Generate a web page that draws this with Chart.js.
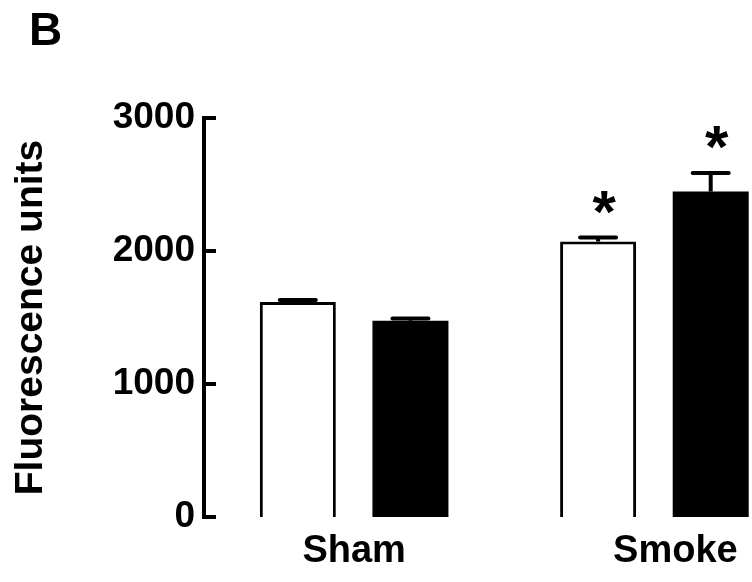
<!DOCTYPE html>
<html>
<head>
<meta charset="utf-8">
<title>Fluorescence units</title>
<script src="https://cdn.jsdelivr.net/npm/chart.js@4.4.1/dist/chart.umd.min.js"></script>
<style>
  html, body { margin: 0; padding: 0; background: #fff; }
  #wrap { position: relative; width: 752px; height: 582px; }
</style>
</head>
<body>
<div id="wrap"><canvas id="chart"></canvas></div>
<script>
const GROUPS = ['Sham', 'Smoke'];
const OPEN_VALUES = [1617, 2071];
const OPEN_ERRORS = [15, 30];
const FILLED_VALUES = [1476, 2447];
const FILLED_ERRORS = [16, 139];
const OPEN_MARKS = ['', '*'];
const FILLED_MARKS = ['', '*'];
const Y_TICKS = [0, 1000, 2000, 3000];
const Y_TITLE = 'Fluorescence units';
const PANEL_LABEL = 'B';

const FONT = "'Liberation Sans', Arial, sans-serif";
Chart.defaults.font.family = FONT;
Chart.defaults.color = '#000';

// the original figure sets its labels slightly right of the group centre
const LABEL_SHIFT = [0, 0.07];

function points(values) {
    return values.map((v, i) => ({ x: i, y: v }));
}

// error bars (upper only) + significance stars, placed with the scales
const errorBars = {
    id: 'errorBars',
    afterDatasetsDraw(chart) {
        let ctx = chart.ctx;
        let yScale = chart.scales.y;
        ctx.save();
        ctx.strokeStyle = '#000';
        ctx.fillStyle = '#000';
        chart.data.datasets.forEach((ds, di) => {
            let meta = chart.getDatasetMeta(di);
            meta.data.forEach((bar, i) => {
                let top = yScale.getPixelForValue(ds.data[i].y + ds.errors[i]);
                ctx.lineWidth = 4;
                ctx.lineCap = 'butt';
                ctx.beginPath();
                ctx.moveTo(bar.x, bar.y);
                ctx.lineTo(bar.x, top);
                ctx.stroke();
                ctx.lineCap = 'round';
                ctx.beginPath();
                ctx.moveTo(bar.x - 18, top);
                ctx.lineTo(bar.x + 18, top);
                ctx.stroke();
                if (ds.marks[i]) {
                    ctx.font = `bold 60px ${FONT}`;
                    ctx.textAlign = 'center';
                    ctx.textBaseline = 'alphabetic';
                    ctx.fillText(ds.marks[i], bar.x + 6, top - 6);
                }
            });
        });
        ctx.restore();
    }
};

// inward tick marks on the y axis + panel letter
const axisExtras = {
    id: 'axisExtras',
    afterDraw(chart) {
        let ctx = chart.ctx;
        let yScale = chart.scales.y;
        let left = chart.chartArea.left;
        ctx.save();
        ctx.strokeStyle = '#000';
        ctx.lineWidth = 4;
        yScale.ticks.forEach(t => {
            let py = yScale.getPixelForValue(t.value);
            ctx.beginPath();
            ctx.moveTo(left - 2, py);
            ctx.lineTo(left + 12, py);
            ctx.stroke();
        });
        ctx.fillStyle = '#000';
        ctx.font = `bold 46px ${FONT}`;
        ctx.textAlign = 'left';
        ctx.textBaseline = 'alphabetic';
        ctx.fillText(PANEL_LABEL, 29, 45);
        ctx.restore();
    }
};

let ctx = document.getElementById('chart').getContext('2d');
let chart = new Chart(ctx, {
    type: 'bar',
    data: {
        datasets: [{
            label: 'Open',
            data: points(OPEN_VALUES),
            errors: OPEN_ERRORS,
            marks: OPEN_MARKS,
            backgroundColor: '#fff',
            borderColor: '#000',
            borderWidth: 3,
            borderSkipped: 'bottom'
        }, {
            label: 'Filled',
            data: points(FILLED_VALUES),
            errors: FILLED_ERRORS,
            marks: FILLED_MARKS,
            backgroundColor: '#000',
            borderWidth: 0
        }]
    },
    options: {
        responsive: true,
        maintainAspectRatio: false,
        animation: false,
        categoryPercentage: 0.75,
        barPercentage: 0.675,
        layout: { padding: { top: 118, left: 5, right: 0, bottom: 0 } },
        plugins: {
            legend: { display: false },
            tooltip: { enabled: false }
        },
        scales: {
            x: {
                type: 'linear',
                min: -0.5,
                max: 1.325,
                bounds: 'data',
                offset: false,
                grid: { display: false, drawTicks: false, offset: false },
                border: { display: false },
                afterBuildTicks(scale) {
                    scale.ticks = GROUPS.map((g, i) => ({ value: i + LABEL_SHIFT[i] }));
                },
                afterFit(scale) { scale.height = 65; },
                ticks: {
                    padding: 12,
                    maxRotation: 0,
                    font: { size: 38, weight: 'bold' },
                    callback: (v, i) => GROUPS[i]
                }
            },
            y: {
                min: 0,
                max: 3000,
                grid: { display: false, drawTicks: false },
                border: { display: true, color: '#000', width: 4 },
                afterBuildTicks(scale) {
                    scale.ticks = Y_TICKS.map(v => ({ value: v }));
                },
                afterFit(scale) { scale.width = 199; },
                ticks: {
                    padding: 9,
                    font: { size: 37, weight: 'bold' },
                    callback: (v) => String(v)
                },
                title: {
                    display: true,
                    text: Y_TITLE,
                    font: { size: 39, weight: 'bold' },
                    padding: { top: 3, bottom: 4 }
                }
            }
        }
    },
    plugins: [errorBars, axisExtras]
});
</script>
</body>
</html>
